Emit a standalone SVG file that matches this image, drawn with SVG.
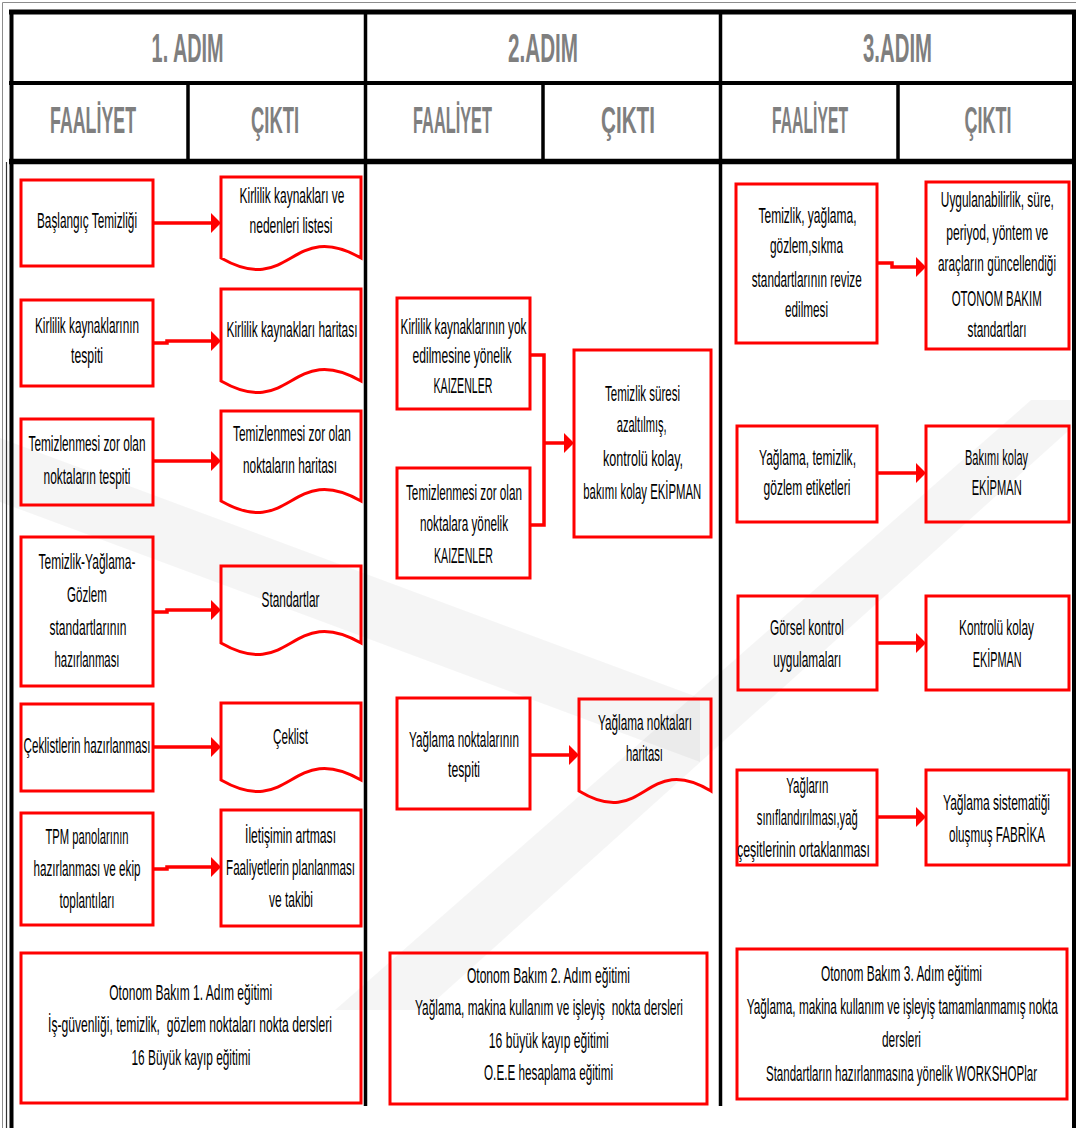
<svg xmlns="http://www.w3.org/2000/svg" width="1076" height="1128" viewBox="0 0 1076 1128">
  <style>
    .hd{font-family:"Liberation Sans Narrow","Liberation Sans",Arial,sans-serif;font-weight:bold;fill:#7f7f7f;text-anchor:middle}
    .h1{font-size:41px}
    .h2{font-size:37px}
    .t{font-family:"Liberation Sans Narrow","Liberation Sans",Arial,sans-serif;font-size:13px;fill:#000;text-anchor:middle;white-space:pre}
    .box{fill:none;stroke:#ff0000;stroke-width:3}
    .wire{fill:none;stroke:#ff0000;stroke-width:3.5}
    .g{stroke:#000;fill:none}
    .wm{fill:#000;opacity:0.04}
  </style>
  <defs>
    <marker id="ah" viewBox="0 0 10 20" refX="1" refY="10" markerWidth="10" markerHeight="20" markerUnits="userSpaceOnUse" orient="auto">
      <path d="M0,0 L10,10 L0,20 Z" fill="#ff0000"/>
    </marker>
  </defs>
  <rect width="1076" height="1128" fill="#fff"/>

  <!-- faint background emblem -->
  <g id="emblem">
    <polygon class="wm" points="0,438 700,698 700,762 0,502"/>
    <polygon class="wm" points="1031,400 1076,400 1076,424 425,1010 335,1010"/>
  </g>

  <!-- table frame -->
  <g id="frame">
    <path d="M2.5,1128 V2.5 H1076" stroke="#8c8c8c" stroke-width="1" fill="none"/>
    <path d="M6.5,162 V1128" stroke="#333" stroke-width="1.2" fill="none"/>
    <g class="g">
      <path d="M9,12 H1076" stroke-width="5"/>
      <path d="M9,83 H1076" stroke-width="4"/>
      <path d="M9,161.5 H1076" stroke-width="5.5"/>
      <path d="M11.5,10 V1128" stroke-width="4"/>
      <path d="M1074,10 V1128" stroke-width="4"/>
      <path d="M365.5,10 V1106" stroke-width="3.5"/>
      <path d="M720.5,10 V1106" stroke-width="3.5"/>
      <path d="M188,83 V162" stroke-width="3.5"/>
      <path d="M543,83 V162" stroke-width="3.5"/>
      <path d="M898,83 V162" stroke-width="3.5"/>
    </g>
  </g>

  <!-- column headings -->
  <g id="headings">
    <text class="hd h1" x="187.6" y="62" textLength="72" lengthAdjust="spacingAndGlyphs">1. ADIM</text>
    <text class="hd h1" x="543" y="62" textLength="70" lengthAdjust="spacingAndGlyphs">2.ADIM</text>
    <text class="hd h1" x="897.5" y="62" textLength="69" lengthAdjust="spacingAndGlyphs">3.ADIM</text>
    <text class="hd h2" x="93" y="133" textLength="86" lengthAdjust="spacingAndGlyphs">FAALİYET</text>
    <text class="hd h2" x="275" y="133" textLength="48" lengthAdjust="spacingAndGlyphs">ÇIKTI</text>
    <text class="hd h2" x="452.5" y="133" textLength="79" lengthAdjust="spacingAndGlyphs">FAALİYET</text>
    <text class="hd h2" x="628" y="133" textLength="54" lengthAdjust="spacingAndGlyphs">ÇIKTI</text>
    <text class="hd h2" x="810" y="133" textLength="76" lengthAdjust="spacingAndGlyphs">FAALİYET</text>
    <text class="hd h2" x="988" y="133" textLength="47" lengthAdjust="spacingAndGlyphs">ÇIKTI</text>
  </g>

  <!-- connectors -->
  <g id="connectors">
    <path class="wire" d="M153,223 H212" marker-end="url(#ah)"/>
    <path class="wire" d="M153,343 H167 V341 H212" marker-end="url(#ah)"/>
    <path class="wire" d="M153,461 H212" marker-end="url(#ah)"/>
    <path class="wire" d="M153,612 H167 V610 H212" marker-end="url(#ah)"/>
    <path class="wire" d="M153,747 H212" marker-end="url(#ah)"/>
    <path class="wire" d="M153,869 H167 V867 H212" marker-end="url(#ah)"/>
    <path class="wire" d="M530,355 H544 V525 H530"/>
    <path class="wire" d="M544,443 H565" marker-end="url(#ah)"/>
    <path class="wire" d="M530,755 H570" marker-end="url(#ah)"/>
    <path class="wire" d="M877,263 H892 V267 H917" marker-end="url(#ah)"/>
    <path class="wire" d="M877,473 H917" marker-end="url(#ah)"/>
    <path class="wire" d="M877,643 H917" marker-end="url(#ah)"/>
    <path class="wire" d="M877,817 H917" marker-end="url(#ah)"/>
  </g>

  <!-- step 1: activities -->
  <g id="a1"><rect class="box" x="21" y="180" width="132" height="86"/>
    <text class="t" transform="translate(87,228) scale(1,1.73)" textLength="100" lengthAdjust="spacingAndGlyphs">Başlangıç Temizliği</text></g>
  <g id="a2"><rect class="box" x="21" y="300" width="132" height="86"/>
    <text class="t" transform="translate(87,333) scale(1,1.73)" textLength="104" lengthAdjust="spacingAndGlyphs">Kirlilik kaynaklarının</text>
    <text class="t" transform="translate(87,363) scale(1,1.73)" textLength="32" lengthAdjust="spacingAndGlyphs">tespiti</text></g>
  <g id="a3"><rect class="box" x="21" y="419" width="132" height="86"/>
    <text class="t" transform="translate(87,451) scale(1,1.73)" textLength="117" lengthAdjust="spacingAndGlyphs">Temizlenmesi zor olan</text>
    <text class="t" transform="translate(87,484) scale(1,1.73)" textLength="87" lengthAdjust="spacingAndGlyphs">noktaların tespiti</text></g>
  <g id="a4"><rect class="box" x="21" y="537" width="132" height="149"/>
    <text class="t" transform="translate(87,569) scale(1,1.73)" textLength="97" lengthAdjust="spacingAndGlyphs">Temizlik-Yağlama-</text>
    <text class="t" transform="translate(87,602) scale(1,1.73)" textLength="40" lengthAdjust="spacingAndGlyphs">Gözlem</text>
    <text class="t" transform="translate(88,635) scale(1,1.73)" textLength="77" lengthAdjust="spacingAndGlyphs">standartlarının</text>
    <text class="t" transform="translate(87,667) scale(1,1.73)" textLength="65" lengthAdjust="spacingAndGlyphs">hazırlanması</text></g>
  <g id="a5"><rect class="box" x="21" y="704" width="132" height="87"/>
    <text class="t" transform="translate(87,753) scale(1,1.73)" textLength="127" lengthAdjust="spacingAndGlyphs">Çeklistlerin hazırlanması</text></g>
  <g id="a6"><rect class="box" x="21" y="813" width="132" height="112"/>
    <text class="t" transform="translate(87,844) scale(1,1.73)" textLength="83" lengthAdjust="spacingAndGlyphs">TPM panolarının</text>
    <text class="t" transform="translate(87,876) scale(1,1.73)" textLength="107" lengthAdjust="spacingAndGlyphs">hazırlanması ve ekip</text>
    <text class="t" transform="translate(87,908) scale(1,1.73)" textLength="55" lengthAdjust="spacingAndGlyphs">toplantıları</text></g>

  <!-- step 1: outputs (document shapes) -->
  <g id="o1"><path class="box" d="M221,177 H361 V258 C291,218 291,298 221,258 Z"/>
    <text class="t" transform="translate(292,203) scale(1,1.73)" textLength="105" lengthAdjust="spacingAndGlyphs">Kirlilik kaynakları ve</text>
    <text class="t" transform="translate(291,233) scale(1,1.73)" textLength="83" lengthAdjust="spacingAndGlyphs">nedenleri listesi</text></g>
  <g id="o2"><path class="box" d="M221,289 H361 V381 C291,341 291,421 221,381 Z"/>
    <text class="t" transform="translate(292,337) scale(1,1.73)" textLength="131" lengthAdjust="spacingAndGlyphs">Kirlilik kaynakları haritası</text></g>
  <g id="o3"><path class="box" d="M221,411 H361 V501 C291,461 291,541 221,501 Z"/>
    <text class="t" transform="translate(292,441) scale(1,1.73)" textLength="118" lengthAdjust="spacingAndGlyphs">Temizlenmesi zor olan</text>
    <text class="t" transform="translate(290,473) scale(1,1.73)" textLength="94" lengthAdjust="spacingAndGlyphs">noktaların haritası</text></g>
  <g id="o4"><path class="box" d="M221,566 H361 V643 C291,603 291,683 221,643 Z"/>
    <text class="t" transform="translate(290.5,607) scale(1,1.73)" textLength="58" lengthAdjust="spacingAndGlyphs">Standartlar</text></g>
  <g id="o5"><path class="box" d="M221,703 H361 V780 C291,740 291,820 221,780 Z"/>
    <text class="t" transform="translate(290.5,744) scale(1,1.73)" textLength="35" lengthAdjust="spacingAndGlyphs">Çeklist</text></g>
  <g id="o6"><rect class="box" x="221" y="810" width="140" height="116"/>
    <text class="t" transform="translate(290.5,843) scale(1,1.73)" textLength="91" lengthAdjust="spacingAndGlyphs">İletişimin artması</text>
    <text class="t" transform="translate(290.5,875) scale(1,1.73)" textLength="129" lengthAdjust="spacingAndGlyphs">Faaliyetlerin planlanması</text>
    <text class="t" transform="translate(291,907) scale(1,1.73)" textLength="44" lengthAdjust="spacingAndGlyphs">ve takibi</text></g>

  <!-- step 2 -->
  <g id="k1"><rect class="box" x="397" y="298" width="133" height="111"/>
    <text class="t" transform="translate(463.5,334) scale(1,1.73)" textLength="126" lengthAdjust="spacingAndGlyphs">Kirlilik kaynaklarının yok</text>
    <text class="t" transform="translate(462,363) scale(1,1.73)" textLength="99" lengthAdjust="spacingAndGlyphs">edilmesine yönelik</text>
    <text class="t" transform="translate(463,393) scale(1,1.73)" textLength="59" lengthAdjust="spacingAndGlyphs">KAIZENLER</text></g>
  <g id="k2"><rect class="box" x="397" y="468" width="133" height="110"/>
    <text class="t" transform="translate(464,500) scale(1,1.73)" textLength="116" lengthAdjust="spacingAndGlyphs">Temizlenmesi zor olan</text>
    <text class="t" transform="translate(464,531) scale(1,1.73)" textLength="88" lengthAdjust="spacingAndGlyphs">noktalara yönelik</text>
    <text class="t" transform="translate(463.5,563) scale(1,1.73)" textLength="59" lengthAdjust="spacingAndGlyphs">KAIZENLER</text></g>
  <g id="e1"><rect class="box" x="574" y="350" width="137" height="187"/>
    <text class="t" transform="translate(642.5,401) scale(1,1.73)" textLength="75" lengthAdjust="spacingAndGlyphs">Temizlik süresi</text>
    <text class="t" transform="translate(641.7,432) scale(1,1.73)" textLength="50" lengthAdjust="spacingAndGlyphs">azaltılmış,</text>
    <text class="t" transform="translate(643,466) scale(1,1.73)" textLength="80" lengthAdjust="spacingAndGlyphs">kontrolü kolay,</text>
    <text class="t" transform="translate(642.3,499) scale(1,1.73)" textLength="118" lengthAdjust="spacingAndGlyphs">bakımı kolay EKİPMAN</text></g>
  <g id="y1"><rect class="box" x="397" y="698" width="133" height="111"/>
    <text class="t" transform="translate(464,747) scale(1,1.73)" textLength="110" lengthAdjust="spacingAndGlyphs">Yağlama noktalarının</text>
    <text class="t" transform="translate(464,777) scale(1,1.73)" textLength="32" lengthAdjust="spacingAndGlyphs">tespiti</text></g>
  <g id="y2"><path class="box" d="M579,699 H711 V791 C645,751 645,831 579,791 Z"/>
    <text class="t" transform="translate(645,730) scale(1,1.73)" textLength="94" lengthAdjust="spacingAndGlyphs">Yağlama noktaları</text>
    <text class="t" transform="translate(644.5,761) scale(1,1.73)" textLength="37" lengthAdjust="spacingAndGlyphs">haritası</text></g>

  <!-- step 3 -->
  <g id="r1"><rect class="box" x="736" y="184" width="141" height="159"/>
    <text class="t" transform="translate(807.5,223) scale(1,1.73)" textLength="98" lengthAdjust="spacingAndGlyphs">Temizlik, yağlama,</text>
    <text class="t" transform="translate(806.5,253) scale(1,1.73)" textLength="73" lengthAdjust="spacingAndGlyphs">gözlem,sıkma</text>
    <text class="t" transform="translate(806.7,287) scale(1,1.73)" textLength="110" lengthAdjust="spacingAndGlyphs">standartlarının revize</text>
    <text class="t" transform="translate(806.5,317) scale(1,1.73)" textLength="43" lengthAdjust="spacingAndGlyphs">edilmesi</text></g>
  <g id="p1"><rect class="box" x="926" y="182" width="143" height="167"/>
    <text class="t" transform="translate(997.3,207) scale(1,1.73)" textLength="113" lengthAdjust="spacingAndGlyphs">Uygulanabilirlik, süre,</text>
    <text class="t" transform="translate(997.3,240) scale(1,1.73)" textLength="102" lengthAdjust="spacingAndGlyphs">periyod, yöntem ve</text>
    <text class="t" transform="translate(997,271) scale(1,1.73)" textLength="118" lengthAdjust="spacingAndGlyphs">araçların güncellendiği</text>
    <text class="t" transform="translate(996.7,306) scale(1,1.73)" textLength="90" lengthAdjust="spacingAndGlyphs">OTONOM BAKIM</text>
    <text class="t" transform="translate(997,337) scale(1,1.73)" textLength="59" lengthAdjust="spacingAndGlyphs">standartları</text></g>
  <g id="r2"><rect class="box" x="737" y="426" width="140" height="96"/>
    <text class="t" transform="translate(807.5,465) scale(1,1.73)" textLength="97" lengthAdjust="spacingAndGlyphs">Yağlama, temizlik,</text>
    <text class="t" transform="translate(807,495) scale(1,1.73)" textLength="87" lengthAdjust="spacingAndGlyphs">gözlem etiketleri</text></g>
  <g id="p2"><rect class="box" x="926" y="426" width="143" height="96"/>
    <text class="t" transform="translate(996.5,465) scale(1,1.73)" textLength="63" lengthAdjust="spacingAndGlyphs">Bakımı kolay</text>
    <text class="t" transform="translate(996.7,495) scale(1,1.73)" textLength="50" lengthAdjust="spacingAndGlyphs">EKİPMAN</text></g>
  <g id="r3"><rect class="box" x="738" y="596" width="139" height="94"/>
    <text class="t" transform="translate(807,635) scale(1,1.73)" textLength="74" lengthAdjust="spacingAndGlyphs">Görsel kontrol</text>
    <text class="t" transform="translate(807.3,667) scale(1,1.73)" textLength="68" lengthAdjust="spacingAndGlyphs">uygulamaları</text></g>
  <g id="p3"><rect class="box" x="926" y="596" width="143" height="94"/>
    <text class="t" transform="translate(996.5,635) scale(1,1.73)" textLength="75" lengthAdjust="spacingAndGlyphs">Kontrolü kolay</text>
    <text class="t" transform="translate(997.2,667) scale(1,1.73)" textLength="49" lengthAdjust="spacingAndGlyphs">EKİPMAN</text></g>
  <g id="r4"><rect class="box" x="737" y="770" width="140" height="95"/>
    <text class="t" transform="translate(807.3,793) scale(1,1.73)" textLength="42" lengthAdjust="spacingAndGlyphs">Yağların</text>
    <text class="t" transform="translate(807.3,825) scale(1,1.73)" textLength="101" lengthAdjust="spacingAndGlyphs">sınıflandırılması,yağ</text>
    <text class="t" transform="translate(803.5,857) scale(1,1.73)" textLength="133" lengthAdjust="spacingAndGlyphs">çeşitlerinin ortaklanması</text></g>
  <g id="p4"><rect class="box" x="926" y="770" width="143" height="95"/>
    <text class="t" transform="translate(996.5,810) scale(1,1.73)" textLength="107" lengthAdjust="spacingAndGlyphs">Yağlama sistematiği</text>
    <text class="t" transform="translate(997,842) scale(1,1.73)" textLength="96" lengthAdjust="spacingAndGlyphs">oluşmuş FABRİKA</text></g>

  <!-- training boxes -->
  <g id="b1"><rect class="box" x="21" y="953" width="340" height="150"/>
    <text class="t" transform="translate(190.7,1000) scale(1,1.73)" textLength="163" lengthAdjust="spacingAndGlyphs">Otonom Bakım 1. Adım eğitimi</text>
    <text class="t" transform="translate(190,1032) scale(1,1.73)" textLength="284" lengthAdjust="spacingAndGlyphs">İş-güvenliği, temizlik,  gözlem noktaları nokta dersleri</text>
    <text class="t" transform="translate(191,1065) scale(1,1.73)" textLength="119" lengthAdjust="spacingAndGlyphs">16 Büyük kayıp eğitimi</text></g>
  <g id="b2"><rect class="box" x="390" y="953" width="317" height="151"/>
    <text class="t" transform="translate(548.4,983) scale(1,1.73)" textLength="163" lengthAdjust="spacingAndGlyphs">Otonom Bakım 2. Adım eğitimi</text>
    <text class="t" transform="translate(549,1015) scale(1,1.73)" textLength="268" lengthAdjust="spacingAndGlyphs">Yağlama, makina kullanım ve işleyiş  nokta dersleri</text>
    <text class="t" transform="translate(548.8,1048) scale(1,1.73)" textLength="120" lengthAdjust="spacingAndGlyphs">16 büyük kayıp eğitimi</text>
    <text class="t" transform="translate(548.5,1080) scale(1,1.73)" textLength="129" lengthAdjust="spacingAndGlyphs">O.E.E hesaplama eğitimi</text></g>
  <g id="b3"><rect class="box" x="737" y="949" width="330" height="150"/>
    <text class="t" transform="translate(901.5,981) scale(1,1.73)" textLength="161" lengthAdjust="spacingAndGlyphs">Otonom Bakım 3. Adım eğitimi</text>
    <text class="t" style="font-size:11.5px" transform="translate(902.2,1014) scale(1,1.96)" textLength="311" lengthAdjust="spacingAndGlyphs">Yağlama, makina kullanım ve işleyiş tamamlanmamış nokta</text>
    <text class="t" transform="translate(901.5,1047) scale(1,1.73)" textLength="39" lengthAdjust="spacingAndGlyphs">dersleri</text>
    <text class="t" transform="translate(901.5,1081) scale(1,1.73)" textLength="271" lengthAdjust="spacingAndGlyphs">Standartların hazırlanmasına yönelik WORKSHOPlar</text></g>
</svg>
